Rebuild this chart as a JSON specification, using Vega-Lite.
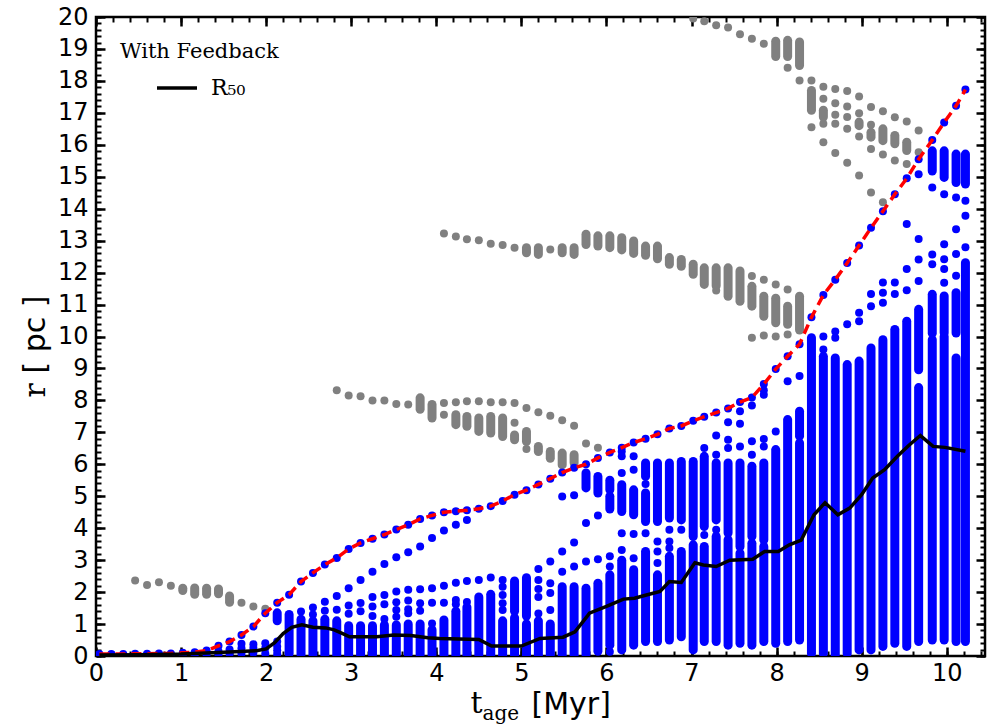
{
"$schema":"https://vega.github.io/schema/vega-lite/v6.json",
"width":889,"height":639,
"autosize":{"type":"none"},
"padding":{"left":96,"top":17,"right":3,"bottom":72},
"background":"white",
"config":{"view":{"stroke":"black","strokeWidth":2.5},"axis":{"domain":false,"grid":false,"tickColor":"black","tickWidth":2,"labelColor":"black","titleColor":"black","labelFlush":false,"labelOverlap":false}},
"datasets":{
"env":[{"t":0.04,"r":0.06},{"t":0.18,"r":0.06},{"t":0.32,"r":0.06},{"t":0.46,"r":0.07},{"t":0.6,"r":0.07},{"t":0.74,"r":0.08},{"t":0.88,"r":0.08},{"t":1.02,"r":0.1},{"t":1.16,"r":0.12},{"t":1.3,"r":0.17},{"t":1.44,"r":0.32},{"t":1.57,"r":0.45},{"t":1.71,"r":0.66},{"t":1.85,"r":0.92},{"t":1.99,"r":1.34},{"t":2.13,"r":1.67},{"t":2.27,"r":1.92},{"t":2.41,"r":2.33},{"t":2.55,"r":2.6},{"t":2.69,"r":2.86},{"t":2.83,"r":3.07},{"t":2.97,"r":3.35},{"t":3.11,"r":3.54},{"t":3.25,"r":3.67},{"t":3.39,"r":3.8},{"t":3.53,"r":3.96},{"t":3.67,"r":4.11},{"t":3.81,"r":4.29},{"t":3.95,"r":4.4},{"t":4.09,"r":4.5},{"t":4.23,"r":4.53},{"t":4.36,"r":4.56},{"t":4.5,"r":4.61},{"t":4.64,"r":4.69},{"t":4.78,"r":4.85},{"t":4.92,"r":5.05},{"t":5.06,"r":5.19},{"t":5.2,"r":5.37},{"t":5.34,"r":5.55},{"t":5.48,"r":5.74},{"t":5.62,"r":5.89},{"t":5.76,"r":6.0},{"t":5.9,"r":6.2},{"t":6.04,"r":6.37},{"t":6.18,"r":6.52},{"t":6.32,"r":6.68},{"t":6.46,"r":6.8},{"t":6.6,"r":6.94},{"t":6.74,"r":7.12},{"t":6.88,"r":7.2},{"t":7.02,"r":7.36},{"t":7.15,"r":7.49},{"t":7.29,"r":7.62},{"t":7.43,"r":7.75},{"t":7.57,"r":7.95},{"t":7.71,"r":8.09},{"t":7.85,"r":8.51},{"t":7.99,"r":8.98},{"t":8.13,"r":9.38},{"t":8.27,"r":9.76},{"t":8.41,"r":10.6},{"t":8.55,"r":11.3},{"t":8.69,"r":11.78},{"t":8.83,"r":12.3},{"t":8.97,"r":12.85},{"t":9.11,"r":13.4},{"t":9.25,"r":13.92},{"t":9.39,"r":14.45},{"t":9.53,"r":14.95},{"t":9.67,"r":15.55},{"t":9.83,"r":16.15},{"t":9.97,"r":16.7},{"t":10.11,"r":17.22},{"t":10.22,"r":17.73}],
"med":[{"t":0.04,"r":0.03},{"t":0.5,"r":0.04},{"t":1.0,"r":0.06},{"t":1.5,"r":0.12},{"t":1.9,"r":0.17},{"t":2.0,"r":0.22},{"t":2.1,"r":0.42},{"t":2.2,"r":0.7},{"t":2.3,"r":0.9},{"t":2.42,"r":0.98},{"t":2.55,"r":0.9},{"t":2.7,"r":0.88},{"t":2.8,"r":0.82},{"t":2.9,"r":0.7},{"t":2.98,"r":0.6},{"t":3.3,"r":0.6},{"t":3.5,"r":0.66},{"t":3.7,"r":0.64},{"t":3.9,"r":0.57},{"t":4.04,"r":0.55},{"t":4.5,"r":0.52},{"t":4.65,"r":0.31},{"t":5.0,"r":0.31},{"t":5.22,"r":0.55},{"t":5.49,"r":0.59},{"t":5.63,"r":0.76},{"t":5.77,"r":1.23},{"t":5.8,"r":1.34},{"t":6.0,"r":1.55},{"t":6.2,"r":1.78},{"t":6.33,"r":1.81},{"t":6.47,"r":1.91},{"t":6.63,"r":2.02},{"t":6.74,"r":2.33},{"t":6.88,"r":2.3},{"t":7.04,"r":2.92},{"t":7.14,"r":2.85},{"t":7.29,"r":2.8},{"t":7.45,"r":3.0},{"t":7.72,"r":3.03},{"t":7.86,"r":3.27},{"t":8.02,"r":3.27},{"t":8.15,"r":3.48},{"t":8.29,"r":3.63},{"t":8.44,"r":4.42},{"t":8.57,"r":4.8},{"t":8.72,"r":4.42},{"t":8.86,"r":4.63},{"t":9.0,"r":5.05},{"t":9.13,"r":5.57},{"t":9.27,"r":5.83},{"t":9.42,"r":6.25},{"t":9.55,"r":6.58},{"t":9.69,"r":6.9},{"t":9.84,"r":6.56},{"t":9.98,"r":6.53},{"t":10.22,"r":6.41}],
"bs":[{"t":2.13,"a":1.1,"b":1.35},{"t":2.27,"a":0.08,"b":1.3},{"t":2.41,"a":0.05,"b":1.15},{"t":2.55,"a":0.05,"b":1.1},{"t":2.69,"a":0.04,"b":1.15},{"t":2.83,"a":0.04,"b":1.1},{"t":2.97,"a":0.04,"b":0.95},{"t":3.11,"a":0.05,"b":0.95},{"t":3.25,"a":0.05,"b":0.95},{"t":3.39,"a":0.05,"b":0.97},{"t":3.53,"a":0.05,"b":0.97},{"t":3.67,"a":0.07,"b":1.0},{"t":3.81,"a":0.05,"b":1.0},{"t":3.95,"a":0.05,"b":0.82},{"t":4.09,"a":0.04,"b":1.13},{"t":4.23,"a":0.04,"b":1.4},{"t":4.36,"a":0.04,"b":1.53},{"t":4.5,"a":0.04,"b":1.85},{"t":4.64,"a":0.02,"b":1.93},{"t":4.78,"a":0.02,"b":1.1},{"t":4.92,"a":0.02,"b":1.2},{"t":4.92,"a":1.4,"b":2.35},{"t":5.06,"a":0.02,"b":1.0},{"t":5.06,"a":1.25,"b":2.45},{"t":5.2,"a":0.02,"b":1.1},{"t":5.34,"a":0.02,"b":1.0},{"t":5.48,"a":0.02,"b":2.17},{"t":5.62,"a":0.02,"b":2.17},{"t":5.76,"a":0.05,"b":2.12},{"t":5.76,"a":5.26,"b":5.73},{"t":5.9,"a":0.15,"b":2.28},{"t":5.9,"a":5.1,"b":5.62},{"t":6.04,"a":0.34,"b":2.54},{"t":6.04,"a":4.6,"b":5.0},{"t":6.04,"a":5.2,"b":5.5},{"t":6.18,"a":0.19,"b":3.0},{"t":6.18,"a":4.52,"b":5.36},{"t":6.32,"a":0.34,"b":2.7},{"t":6.32,"a":4.42,"b":5.2},{"t":6.46,"a":0.45,"b":3.27},{"t":6.46,"a":4.21,"b":5.1},{"t":6.46,"a":5.62,"b":6.04},{"t":6.6,"a":0.45,"b":2.54},{"t":6.6,"a":4.21,"b":6.04},{"t":6.74,"a":0.5,"b":3.12},{"t":6.74,"a":4.32,"b":6.04},{"t":6.88,"a":0.6,"b":3.27},{"t":6.88,"a":4.26,"b":6.09},{"t":7.02,"a":0.19,"b":3.48},{"t":7.02,"a":3.74,"b":6.09},{"t":7.15,"a":0.45,"b":3.43},{"t":7.15,"a":4.05,"b":6.25},{"t":7.29,"a":0.45,"b":3.74},{"t":7.29,"a":4.26,"b":6.04},{"t":7.43,"a":0.34,"b":3.64},{"t":7.43,"a":3.85,"b":6.04},{"t":7.57,"a":0.4,"b":3.22},{"t":7.57,"a":3.42,"b":6.04},{"t":7.71,"a":0.34,"b":3.53},{"t":7.71,"a":3.74,"b":5.94},{"t":7.85,"a":0.45,"b":3.43},{"t":7.85,"a":3.63,"b":6.04},{"t":7.99,"a":0.4,"b":6.46},{"t":8.13,"a":0.45,"b":7.4},{"t":8.27,"a":0.5,"b":6.67},{"t":8.27,"a":6.88,"b":7.66},{"t":8.41,"a":0.08,"b":9.96},{"t":8.55,"a":0.08,"b":9.38},{"t":8.69,"a":0.03,"b":9.33},{"t":8.83,"a":0.08,"b":9.12},{"t":8.97,"a":0.19,"b":9.23},{"t":9.11,"a":0.19,"b":9.64},{"t":9.25,"a":0.3,"b":9.9},{"t":9.39,"a":0.4,"b":10.22},{"t":9.53,"a":0.3,"b":10.48},{"t":9.67,"a":0.45,"b":8.4},{"t":9.67,"a":8.96,"b":10.85},{"t":9.83,"a":0.5,"b":9.9},{"t":9.83,"a":10.1,"b":11.32},{"t":9.83,"a":15.18,"b":15.81},{"t":9.97,"a":0.5,"b":10.0},{"t":9.97,"a":10.11,"b":11.27},{"t":9.97,"a":14.98,"b":15.81},{"t":10.11,"a":0.45,"b":9.33},{"t":10.11,"a":10.11,"b":11.37},{"t":10.11,"a":14.82,"b":15.71},{"t":10.22,"a":0.45,"b":12.31},{"t":10.22,"a":14.77,"b":15.71}],
"bp":[{"t":0.04,"r":0.02},{"t":0.18,"r":0.03},{"t":0.32,"r":0.03},{"t":0.46,"r":0.03},{"t":0.6,"r":0.03},{"t":0.74,"r":0.03},{"t":0.88,"r":0.03},{"t":1.02,"r":0.04},{"t":1.16,"r":0.04},{"t":1.3,"r":0.05},{"t":1.44,"r":0.05},{"t":1.44,"r":0.15},{"t":1.57,"r":0.07},{"t":1.57,"r":0.2},{"t":1.71,"r":0.08},{"t":1.71,"r":0.24},{"t":1.71,"r":0.38},{"t":1.85,"r":0.1},{"t":1.85,"r":0.25},{"t":1.85,"r":0.37},{"t":1.99,"r":0.08},{"t":1.99,"r":0.25},{"t":1.99,"r":0.4},{"t":2.13,"r":0.06},{"t":2.13,"r":0.18},{"t":2.13,"r":0.3},{"t":2.13,"r":0.45},{"t":2.41,"r":1.39},{"t":2.55,"r":1.3},{"t":2.55,"r":1.52},{"t":2.69,"r":1.42},{"t":2.69,"r":1.7},{"t":2.83,"r":1.45},{"t":2.83,"r":1.88},{"t":2.97,"r":1.32},{"t":2.97,"r":1.58},{"t":2.97,"r":2.12},{"t":3.11,"r":1.4},{"t":3.11,"r":1.66},{"t":3.11,"r":2.38},{"t":3.25,"r":1.25},{"t":3.25,"r":1.55},{"t":3.25,"r":1.85},{"t":3.25,"r":2.64},{"t":3.39,"r":1.16},{"t":3.39,"r":1.62},{"t":3.39,"r":1.91},{"t":3.39,"r":2.88},{"t":3.53,"r":1.23},{"t":3.53,"r":1.44},{"t":3.53,"r":1.68},{"t":3.53,"r":2.02},{"t":3.53,"r":3.09},{"t":3.67,"r":1.34},{"t":3.67,"r":1.46},{"t":3.67,"r":1.74},{"t":3.67,"r":2.07},{"t":3.67,"r":3.25},{"t":3.81,"r":1.42},{"t":3.81,"r":1.65},{"t":3.81,"r":2.09},{"t":3.81,"r":3.43},{"t":3.95,"r":1.02},{"t":3.95,"r":1.67},{"t":3.95,"r":2.12},{"t":3.95,"r":3.69},{"t":4.09,"r":1.67},{"t":4.09,"r":2.2},{"t":4.09,"r":3.93},{"t":4.23,"r":1.62},{"t":4.23,"r":1.75},{"t":4.23,"r":2.29},{"t":4.23,"r":4.11},{"t":4.36,"r":1.69},{"t":4.36,"r":2.35},{"t":4.36,"r":4.26},{"t":4.5,"r":2.38},{"t":4.64,"r":2.46},{"t":4.78,"r":1.44},{"t":4.78,"r":1.65},{"t":4.78,"r":1.91},{"t":4.78,"r":2.17},{"t":4.78,"r":2.38},{"t":5.2,"r":1.33},{"t":5.2,"r":1.85},{"t":5.2,"r":2.1},{"t":5.2,"r":2.38},{"t":5.2,"r":2.72},{"t":5.34,"r":1.44},{"t":5.34,"r":1.97},{"t":5.34,"r":2.28},{"t":5.34,"r":2.96},{"t":5.48,"r":2.64},{"t":5.48,"r":3.27},{"t":5.48,"r":4.99},{"t":5.62,"r":2.8},{"t":5.62,"r":3.55},{"t":5.62,"r":5.03},{"t":5.76,"r":2.96},{"t":5.76,"r":4.16},{"t":5.9,"r":3.03},{"t":5.9,"r":4.4},{"t":6.04,"r":0.13},{"t":6.04,"r":2.8},{"t":6.04,"r":3.12},{"t":6.18,"r":3.32},{"t":6.18,"r":3.84},{"t":6.18,"r":5.73},{"t":6.18,"r":6.25},{"t":6.18,"r":6.4},{"t":6.32,"r":3.06},{"t":6.32,"r":3.82},{"t":6.32,"r":5.83},{"t":6.32,"r":6.25},{"t":6.46,"r":3.84},{"t":6.46,"r":5.38},{"t":6.6,"r":2.91},{"t":6.6,"r":3.27},{"t":6.6,"r":3.58},{"t":6.74,"r":3.38},{"t":6.74,"r":3.58},{"t":6.74,"r":3.95},{"t":6.88,"r":3.95},{"t":7.15,"r":3.79},{"t":7.15,"r":6.51},{"t":7.29,"r":3.95},{"t":7.29,"r":6.3},{"t":7.29,"r":6.9},{"t":7.43,"r":6.51},{"t":7.43,"r":6.77},{"t":7.43,"r":7.32},{"t":7.57,"r":6.56},{"t":7.57,"r":7.27},{"t":7.57,"r":7.66},{"t":7.71,"r":6.3},{"t":7.71,"r":6.72},{"t":7.71,"r":7.84},{"t":7.85,"r":6.56},{"t":7.85,"r":6.79},{"t":7.85,"r":8.18},{"t":7.85,"r":8.32},{"t":7.99,"r":7.03},{"t":8.13,"r":8.6},{"t":8.27,"r":8.76},{"t":8.55,"r":9.59},{"t":8.55,"r":10.0},{"t":8.69,"r":9.96},{"t":8.69,"r":10.16},{"t":8.83,"r":10.38},{"t":8.97,"r":10.48},{"t":8.97,"r":10.74},{"t":9.11,"r":10.95},{"t":9.11,"r":11.33},{"t":9.25,"r":11.06},{"t":9.25,"r":11.37},{"t":9.25,"r":11.69},{"t":9.39,"r":11.33},{"t":9.39,"r":11.69},{"t":9.53,"r":11.45},{"t":9.53,"r":12.11},{"t":9.53,"r":13.52},{"t":9.67,"r":11.74},{"t":9.67,"r":12.41},{"t":9.67,"r":13.05},{"t":9.67,"r":15.08},{"t":9.83,"r":12.26},{"t":9.83,"r":12.57},{"t":9.83,"r":14.66},{"t":9.97,"r":11.68},{"t":9.97,"r":12.11},{"t":9.97,"r":12.42},{"t":9.97,"r":12.89},{"t":9.97,"r":14.45},{"t":10.11,"r":11.9},{"t":10.11,"r":12.58},{"t":10.11,"r":13.36},{"t":10.11,"r":14.35},{"t":10.22,"r":12.79},{"t":10.22,"r":13.78},{"t":10.22,"r":14.25}],
"gs":[{"t":1.02,"a":2.05,"b":2.12},{"t":1.16,"a":1.93,"b":2.13},{"t":1.3,"a":1.93,"b":2.12},{"t":1.44,"a":1.95,"b":2.1},{"t":1.57,"a":1.68,"b":1.88},{"t":3.81,"a":7.72,"b":8.08},{"t":3.95,"a":7.45,"b":7.87},{"t":4.23,"a":7.24,"b":7.55},{"t":4.36,"a":7.19,"b":7.5},{"t":4.5,"a":7.03,"b":7.45},{"t":4.64,"a":6.98,"b":7.5},{"t":4.78,"a":6.87,"b":7.45},{"t":4.92,"a":6.77,"b":6.92},{"t":5.06,"a":6.71,"b":7.03},{"t":5.06,"a":12.62,"b":12.78},{"t":5.2,"a":6.4,"b":6.56},{"t":5.2,"a":12.57,"b":12.78},{"t":5.34,"a":6.19,"b":6.4},{"t":5.48,"a":5.98,"b":6.35},{"t":5.48,"a":12.62,"b":12.78},{"t":5.62,"a":6.04,"b":6.3},{"t":5.62,"a":12.57,"b":12.78},{"t":5.76,"a":12.88,"b":13.2},{"t":5.9,"a":12.83,"b":13.15},{"t":6.04,"a":12.78,"b":13.15},{"t":6.18,"a":12.71,"b":13.09},{"t":6.32,"a":12.6,"b":12.99},{"t":6.46,"a":12.54,"b":12.83},{"t":6.6,"a":12.43,"b":12.83},{"t":6.74,"a":12.26,"b":12.47},{"t":6.88,"a":12.2,"b":12.41},{"t":7.02,"a":11.95,"b":12.26},{"t":7.15,"a":11.63,"b":12.15},{"t":7.29,"a":11.59,"b":12.15},{"t":7.43,"a":11.26,"b":12.15},{"t":7.57,"a":11.1,"b":12.05},{"t":7.71,"a":10.95,"b":11.57},{"t":7.85,"a":10.63,"b":11.26},{"t":7.99,"a":10.43,"b":11.2},{"t":7.99,"a":18.76,"b":19.24},{"t":8.13,"a":10.38,"b":10.95},{"t":8.13,"a":18.76,"b":19.27},{"t":8.27,"a":10.2,"b":11.26},{"t":8.27,"a":18.48,"b":19.22},{"t":8.41,"a":17.08,"b":17.7},{"t":8.55,"a":16.87,"b":17.08},{"t":8.97,"a":16.6,"b":16.71},{"t":9.11,"a":16.24,"b":16.39},{"t":9.25,"a":16.13,"b":16.5},{"t":9.39,"a":16.03,"b":16.29},{"t":9.53,"a":15.82,"b":16.08}],
"gp":[{"t":0.46,"r":2.36},{"t":0.6,"r":2.22},{"t":0.74,"r":2.31},{"t":0.88,"r":2.2},{"t":1.71,"r":1.67},{"t":1.85,"r":1.55},{"t":1.99,"r":1.48},{"t":2.83,"r":8.32},{"t":2.97,"r":8.15},{"t":3.11,"r":8.13},{"t":3.25,"r":8.0},{"t":3.39,"r":8.0},{"t":3.53,"r":7.89},{"t":3.67,"r":7.87},{"t":4.09,"r":7.92},{"t":4.09,"r":7.55},{"t":4.09,"r":13.22},{"t":4.23,"r":7.94},{"t":4.23,"r":13.13},{"t":4.36,"r":7.97},{"t":4.36,"r":13.04},{"t":4.5,"r":7.97},{"t":4.5,"r":13.01},{"t":4.64,"r":7.94},{"t":4.64,"r":12.9},{"t":4.78,"r":7.94},{"t":4.78,"r":12.86},{"t":4.92,"r":7.92},{"t":4.92,"r":7.3},{"t":4.92,"r":12.78},{"t":5.06,"r":7.76},{"t":5.06,"r":6.48},{"t":5.2,"r":7.63},{"t":5.34,"r":7.52},{"t":5.34,"r":12.72},{"t":5.48,"r":7.38},{"t":5.62,"r":7.21},{"t":5.76,"r":6.65},{"t":5.9,"r":6.52},{"t":7.02,"r":19.95},{"t":7.15,"r":19.87},{"t":7.29,"r":11.44},{"t":7.29,"r":19.74},{"t":7.43,"r":19.67},{"t":7.57,"r":19.46},{"t":7.71,"r":11.89},{"t":7.71,"r":9.96},{"t":7.71,"r":19.32},{"t":7.85,"r":11.78},{"t":7.85,"r":10.03},{"t":7.85,"r":19.16},{"t":7.99,"r":11.63},{"t":7.99,"r":10.0},{"t":8.13,"r":11.47},{"t":8.13,"r":10.06},{"t":8.13,"r":18.41},{"t":8.27,"r":18.01},{"t":8.41,"r":18.01},{"t":8.41,"r":16.55},{"t":8.55,"r":17.82},{"t":8.55,"r":17.44},{"t":8.55,"r":16.66},{"t":8.55,"r":16.08},{"t":8.69,"r":17.75},{"t":8.69,"r":17.3},{"t":8.69,"r":16.94},{"t":8.69,"r":16.66},{"t":8.69,"r":15.74},{"t":8.83,"r":17.68},{"t":8.83,"r":17.2},{"t":8.83,"r":16.87},{"t":8.83,"r":16.5},{"t":8.83,"r":15.44},{"t":8.97,"r":17.51},{"t":8.97,"r":16.99},{"t":8.97,"r":16.26},{"t":8.97,"r":15.04},{"t":9.11,"r":17.18},{"t":9.11,"r":16.63},{"t":9.11,"r":15.87},{"t":9.11,"r":14.51},{"t":9.25,"r":17.05},{"t":9.25,"r":15.7},{"t":9.25,"r":14.2},{"t":9.39,"r":16.86},{"t":9.39,"r":15.51},{"t":9.53,"r":16.73},{"t":9.53,"r":15.4},{"t":9.67,"r":16.45},{"t":9.67,"r":15.77}]
},
"resolve":{"axis":{"x":"independent","y":"independent"}},
"layer":[
{"data":{"name":"gs"},"mark":{"type":"rule","color":"#808080","strokeWidth":9,"strokeCap":"round","clip":true},
 "encoding":{
  "x":{"field":"t","type":"quantitative","scale":{"domain":[0,10.45],"nice":false,"zero":false},
   "axis":{"orient":"bottom","ticks":false,"tickCount":10,"labelFont":"DejaVu Sans","labelFontSize":24,"labelPadding":5,"title":"[Myr]","titleFont":"DejaVu Sans","titleFontSize":30,"titleFontWeight":"normal","titleX":435,"titleY":57,"titleAlign":"left","titleAnchor":null,"titleBaseline":"alphabetic"}},
  "y":{"field":"a","type":"quantitative","scale":{"domain":[0,20],"nice":false,"zero":false},
   "axis":{"orient":"left","ticks":false,"tickCount":20,"labelFont":"DejaVu Sans","labelFontSize":24,"labelPadding":8,"title":"[ pc ]","titleFont":"DejaVu Sans","titleFontSize":30,"titleFontWeight":"normal","titleAngle":270,"titleX":-52,"titleY":356,"titleAlign":"left","titleBaseline":"alphabetic"}},
  "y2":{"field":"b"}}},
{"data":{"name":"gp"},"mark":{"type":"circle","color":"#808080","size":64,"opacity":1,"clip":true},
 "encoding":{
  "x":{"field":"t","type":"quantitative","scale":{"domain":[0,10.45],"nice":false,"zero":false},
   "axis":{"orient":"bottom","labels":false,"tickCount":10,"tickSize":-9,"tickWidth":2.5,"title":"t","titleFont":"DejaVu Serif","titleFontSize":30,"titleFontWeight":"normal","titleX":374,"titleY":56,"titleAlign":"left","titleBaseline":"alphabetic"}},
  "y":{"field":"r","type":"quantitative","scale":{"domain":[0,20],"nice":false,"zero":false},
   "axis":{"orient":"left","labels":false,"tickCount":20,"tickSize":-9,"tickWidth":2.5,"title":"r","titleFont":"DejaVu Serif","titleFontSize":30,"titleFontWeight":"normal","titleAngle":270,"titleX":-52,"titleY":380,"titleAlign":"left","titleBaseline":"alphabetic"}}}},
{"data":{"name":"bs"},"mark":{"type":"rule","color":"#0000ff","strokeWidth":9,"strokeCap":"round","clip":true},
 "encoding":{
  "x":{"field":"t","type":"quantitative","scale":{"domain":[0,10.45],"nice":false,"zero":false},
   "axis":{"orient":"bottom","labels":false,"tickCount":52,"tickSize":-5,"tickWidth":2,"title":"age","titleFont":"DejaVu Serif","titleFontSize":20,"titleFontWeight":"normal","titleX":386,"titleY":63,"titleAlign":"left","titleBaseline":"alphabetic"}},
  "y":{"field":"a","type":"quantitative","scale":{"domain":[0,20],"nice":false,"zero":false},
   "axis":{"orient":"left","labels":false,"tickCount":100,"tickSize":-5,"tickWidth":2,"title":null}},
  "y2":{"field":"b"}}},
{"data":{"name":"bp"},"mark":{"type":"circle","color":"#0000ff","size":64,"opacity":1,"clip":true},
 "encoding":{
  "x":{"field":"t","type":"quantitative","scale":{"domain":[0,10.45],"nice":false,"zero":false},
   "axis":{"orient":"top","labels":false,"tickCount":10,"tickSize":-9,"tickWidth":2.5,"title":null}},
  "y":{"field":"r","type":"quantitative","scale":{"domain":[0,20],"nice":false,"zero":false},
   "axis":{"orient":"right","labels":false,"tickCount":20,"tickSize":-9,"tickWidth":2.5,"title":null}}}},
{"data":{"name":"env"},"mark":{"type":"circle","color":"#0000ff","size":64,"opacity":1,"clip":true},
 "encoding":{
  "x":{"field":"t","type":"quantitative","scale":{"domain":[0,10.45],"nice":false,"zero":false},
   "axis":{"orient":"top","labels":false,"tickCount":52,"tickSize":-5,"tickWidth":2,"title":null}},
  "y":{"field":"r","type":"quantitative","scale":{"domain":[0,20],"nice":false,"zero":false},
   "axis":{"orient":"right","labels":false,"tickCount":100,"tickSize":-5,"tickWidth":2,"title":null}}}},
{"data":{"name":"env"},"mark":{"type":"line","color":"#ff0000","strokeWidth":3.5,"strokeDash":[10,6],"clip":true},
 "encoding":{
  "x":{"field":"t","type":"quantitative","scale":{"domain":[0,10.45],"nice":false,"zero":false},"axis":null},
  "y":{"field":"r","type":"quantitative","scale":{"domain":[0,20],"nice":false,"zero":false},"axis":null}}},
{"data":{"name":"med"},"mark":{"type":"line","strokeWidth":3.5,"clip":true},
 "encoding":{
  "x":{"field":"t","type":"quantitative","scale":{"domain":[0,10.45],"nice":false,"zero":false},"axis":null},
  "y":{"field":"r","type":"quantitative","scale":{"domain":[0,20],"nice":false,"zero":false},"axis":null},
  "color":{"datum":"R₅₀","type":"nominal","scale":{"range":["black"]},
   "legend":{"orient":"none","legendX":24,"legendY":24,"title":"With Feedback","titleFont":"DejaVu Serif","titleFontSize":21,"titleFontWeight":"normal","titleColor":"black","titlePadding":4,"labelFont":"DejaVu Serif","labelFontSize":22,"labelColor":"black","symbolType":"stroke","symbolStrokeWidth":3.5,"symbolSize":1600,"symbolOffset":35,"labelOffset":12,"padding":0}}}}
]
}
